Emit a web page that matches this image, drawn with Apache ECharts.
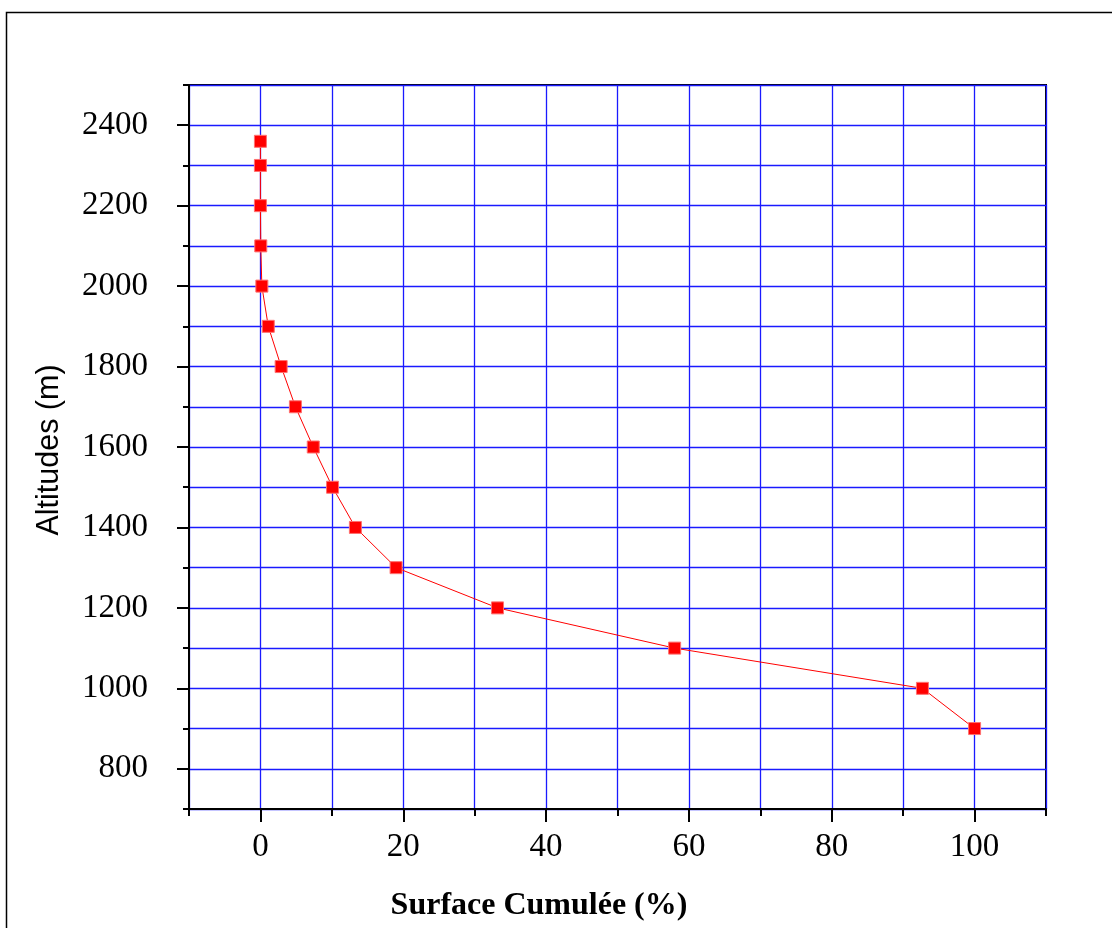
<!DOCTYPE html>
<html>
<head>
<meta charset="utf-8">
<script src="https://cdn.jsdelivr.net/npm/echarts@6/dist/echarts.min.js"></script>
<style>
  html, body { margin: 0; padding: 0; background: #fff; }
  #chart { width: 1112px; height: 928px; }
</style>
</head>
<body>
<div id="chart"></div>
<script>
  // cumulative surface (%) against altitude (m)
  var altitudes = [2360, 2300, 2200, 2100, 2000, 1900, 1800, 1700, 1600, 1500, 1400, 1300, 1200, 1100, 1000, 900];
  var surfaceCum = [0, 0, 0, 0.05, 0.2, 1.1, 2.9, 4.9, 7.4, 10.1, 13.3, 19.0, 33.2, 58.0, 92.7, 100];
  var xMajor = [0, 20, 40, 60, 80, 100];
  var yMajor = [800, 1000, 1200, 1400, 1600, 1800, 2000, 2200, 2400];

  var BLUE = "#1a1aff", RED = "#ff0000", BLACK = "#000";
  var serif = "'Liberation Serif', 'Times New Roman', serif";
  var sans = "'Liberation Sans', Arial, sans-serif";
  function plain(v) { return String(v); }

  var chart = echarts.init(document.getElementById("chart"));
  var grid = { left: 189, right: 66, top: 85, bottom: 119, show: true, borderColor: BLACK, borderWidth: 2 };
  var xRange = { type: "value", min: -10, max: 110, interval: 10 };
  var yRange = { type: "value", min: 700, max: 2500, interval: 100 };

  chart.setOption({
    animation: false,
    grid: grid,
    xAxis: [
      Object.assign({}, xRange, {
        axisLine: { show: true, onZero: false, lineStyle: { color: BLACK, width: 2 } },
        axisTick: { show: true, length: 7, lineStyle: { color: BLACK, width: 2 } },
        axisLabel: { customValues: xMajor, formatter: plain, margin: 22, fontSize: 33, fontFamily: serif, color: BLACK },
        splitLine: { show: true, lineStyle: { color: BLUE, width: 1.3 } }
      }),
      Object.assign({}, xRange, {
        position: "bottom",
        axisLine: { show: false, onZero: false },
        axisTick: { show: true, customValues: xMajor, length: 13, lineStyle: { color: BLACK, width: 2 } },
        axisLabel: { show: false },
        splitLine: { show: false }
      })
    ],
    yAxis: [
      Object.assign({}, yRange, {
        axisLine: { show: true, onZero: false, lineStyle: { color: BLACK, width: 2 } },
        axisTick: { show: true, length: 6, lineStyle: { color: BLACK, width: 2 } },
        axisLabel: { customValues: yMajor, formatter: plain, margin: 41, fontSize: 33, fontFamily: serif, color: BLACK },
        splitLine: { show: true, lineStyle: { color: BLUE, width: 1.3 } }
      }),
      Object.assign({}, yRange, {
        position: "left",
        axisLine: { show: false, onZero: false },
        axisTick: { show: true, customValues: yMajor, length: 12, lineStyle: { color: BLACK, width: 2 } },
        axisLabel: { show: false },
        splitLine: { show: false }
      })
    ],
    graphic: [
      { type: "rect", left: 4, top: 10, shape: { width: 1200, height: 1000 }, style: { fill: "none", stroke: BLACK, lineWidth: 1.5 }, silent: true },
      { type: "text", x: 539, y: 906, style: { text: "Surface Cumulée (%)", font: "bold 32px " + serif, fill: BLACK, align: "center", verticalAlign: "middle" } },
      { type: "text", x: 50, y: 450, rotation: Math.PI / 2, style: { text: "Altitudes (m)", font: "30.5px " + sans, fill: BLACK, align: "center", verticalAlign: "middle" } }
    ],
    series: [{
      type: "line",
      xAxisIndex: 0, yAxisIndex: 0,
      data: altitudes.map(function (a, i) { return [surfaceCum[i], a]; }),
      symbol: "rect", symbolSize: 12,
      lineStyle: { color: RED, width: 1 },
      itemStyle: { color: RED, borderColor: "#ff7070", borderWidth: 1 },
      z: 5
    }]
  });
</script>
</body>
</html>
